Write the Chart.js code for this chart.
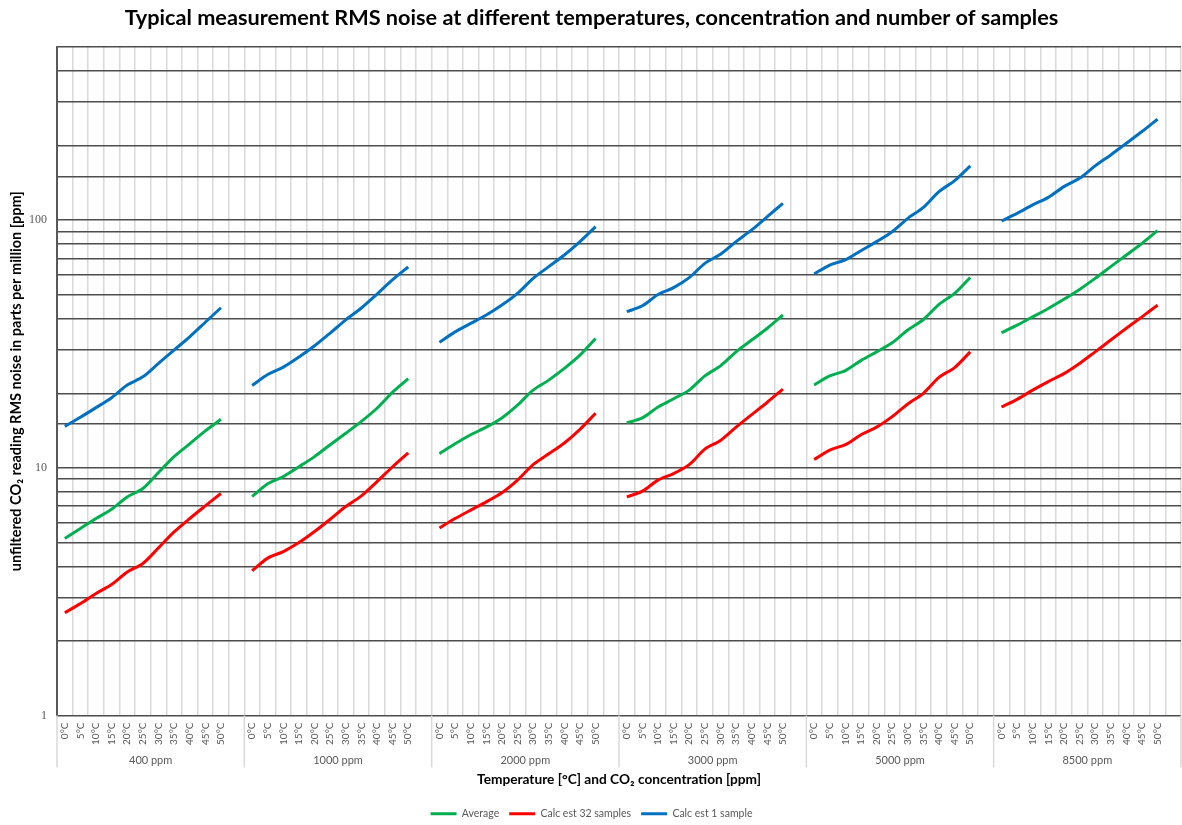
<!DOCTYPE html>
<html>
<head>
<meta charset="utf-8">
<script src="https://cdn.jsdelivr.net/npm/chart.js@4.4.1/dist/chart.umd.min.js"></script>
<style>
  html, body { margin: 0; padding: 0; background: #fff; }
  #wrap { width: 1182px; height: 825px; position: relative; }
</style>
</head>
<body>
<div id="wrap"><canvas id="c" width="1182" height="825"></canvas></div>
<script>
// ---- data ----
const temperatures = ['0°C','5°C','10°C','15°C','20°C','25°C','30°C','35°C','40°C','45°C','50°C'];
const concentrations = ['400 ppm','1000 ppm','2000 ppm','3000 ppm','5000 ppm','8500 ppm'];

// Average (one row per concentration, 0..50 °C)
const averageNoise = [
  [5.18, 5.69, 6.24, 6.81, 7.63, 8.25, 9.57, 11.1, 12.5, 14.1, 15.7],
  [7.66, 8.62, 9.22, 10.1, 11.1, 12.4, 13.8, 15.4, 17.4, 20.2, 22.9],
  [11.4, 12.5, 13.6, 14.6, 15.9, 17.9, 20.6, 22.6, 25.2, 28.5, 33.3],
  [15.2, 15.9, 17.6, 19.0, 20.6, 23.5, 25.8, 29.4, 32.8, 36.6, 41.4],
  [21.6, 23.5, 24.7, 27.1, 29.4, 32.0, 36.0, 39.7, 45.7, 50.6, 58.7],
  [35.1, 37.7, 40.7, 44.0, 47.9, 52.5, 58.2, 64.9, 72.3, 80.6, 90.7]
];
// Calc est 32 samples
const calc32Noise = [
  [2.60, 2.83, 3.11, 3.38, 3.80, 4.11, 4.75, 5.51, 6.24, 7.02, 7.88],
  [3.84, 4.32, 4.59, 4.99, 5.53, 6.20, 6.98, 7.71, 8.80, 10.1, 11.5],
  [5.72, 6.24, 6.75, 7.29, 7.93, 8.92, 10.3, 11.4, 12.6, 14.3, 16.6],
  [7.63, 8.05, 8.92, 9.48, 10.3, 11.9, 12.9, 14.6, 16.4, 18.4, 20.8],
  [10.8, 11.8, 12.4, 13.6, 14.6, 16.1, 18.1, 20.0, 23.2, 25.4, 29.4],
  [17.6, 18.9, 20.6, 22.3, 24.0, 26.4, 29.4, 32.8, 36.6, 40.7, 45.4]
];
// Calc est 1 sample
const calc1Noise = [
  [14.7, 16.0, 17.5, 19.2, 21.6, 23.3, 26.4, 29.9, 33.8, 38.7, 44.3],
  [21.5, 23.8, 25.5, 28.0, 31.1, 35.0, 39.6, 44.2, 50.3, 57.5, 64.7],
  [32.1, 35.4, 38.3, 41.4, 45.4, 50.6, 58.2, 64.9, 72.3, 81.9, 94.1],
  [42.7, 45.1, 50.1, 53.4, 58.6, 66.9, 72.8, 81.9, 91.3, 103.3, 116.9],
  [60.6, 65.9, 69.1, 75.3, 81.9, 89.8, 101.7, 112.6, 130.4, 144.4, 165.6],
  [99.3, 106.5, 115.2, 123.6, 136.6, 147.5, 165.6, 183.4, 204.3, 227.9, 255.5]
];
const yTickLabels = [1, 10, 100];

// ---- build category table (each group gets 11 temperatures + one empty slot) ----
const labels = [];
concentrations.forEach(() => { temperatures.forEach(t => labels.push(t)); labels.push(''); });
function flatten(rows) {
  const out = [];
  rows.forEach(r => { r.forEach(v => out.push(v)); out.push(null); });
  return out;
}

const FONT = 'Lato, "Liberation Sans", sans-serif';
const SLOTS = temperatures.length + 1;

const groupLabelPlugin = {
  id: 'groupLabels',
  afterDraw(chart) {
    const x = chart.scales.x;
    const ctx = chart.ctx;
    const area = chart.chartArea;
    const half = (x.getPixelForValue(1) - x.getPixelForValue(0)) / 2;
    ctx.save();
    ctx.strokeStyle = '#d9d9d9';
    ctx.lineWidth = 1.5;
    ctx.fillStyle = '#595959';
    ctx.font = '11px ' + FONT;
    ctx.textAlign = 'center';
    ctx.textBaseline = 'middle';
    concentrations.forEach((name, g) => {
      const left = x.getPixelForValue(g * SLOTS) - half;
      const right = x.getPixelForValue(g * SLOTS + SLOTS - 1) + half;
      ctx.beginPath();
      ctx.moveTo(left, area.bottom);
      ctx.lineTo(left, area.bottom + 52);
      ctx.stroke();
      if (g === concentrations.length - 1) {
        ctx.beginPath();
        ctx.moveTo(right, area.bottom);
        ctx.lineTo(right, area.bottom + 52);
        ctx.stroke();
      }
      ctx.fillText(name, (left + right) / 2, area.bottom + 45);
    });
    ctx.restore();
  }
};

new Chart(document.getElementById('c'), {
  type: 'line',
  data: {
    labels: labels,
    datasets: [
      { label: 'Average', data: flatten(averageNoise), borderColor: '#00b050', backgroundColor: '#00b050' },
      { label: 'Calc est 32 samples', data: flatten(calc32Noise), borderColor: '#ff0000', backgroundColor: '#ff0000' },
      { label: 'Calc est 1 sample', data: flatten(calc1Noise), borderColor: '#0070c0', backgroundColor: '#0070c0' }
    ].map(d => Object.assign(d, { borderWidth: 3, pointRadius: 0, pointStyle: 'line', tension: 0.3, spanGaps: false }))
  },
  options: {
    responsive: false,
    animation: false,
    layout: { padding: { left: 2, right: 1, top: 4, bottom: -4 } },
    plugins: {
      title: {
        display: true,
        text: 'Typical measurement RMS noise at different temperatures, concentration and number of samples',
        color: '#000',
        font: { family: FONT, size: 21.7, weight: 'bold' },
        padding: { top: 1, bottom: 16 }
      },
      legend: {
        position: 'bottom',
        labels: {
          usePointStyle: true,
          pointStyleWidth: 26,
          color: '#595959',
          font: { family: FONT, size: 10.5 },
          padding: 10
        }
      },
      tooltip: { enabled: false }
    },
    scales: {
      x: {
        type: 'category',
        offset: true,
        afterFit: (s) => { s.paddingLeft = 0; s.paddingRight = 0; s.height = 83; },
        grid: { display: true, offset: true, color: '#d9d9d9', lineWidth: 1.5, drawTicks: false },
        border: { display: false },
        ticks: {
          autoSkip: false, maxRotation: 90, minRotation: 90,
          color: '#595959', font: { family: FONT, size: 10 }, padding: 7
        },
        title: {
          display: true,
          text: 'Temperature [°C] and CO₂ concentration [ppm]',
          color: '#000',
          font: { family: FONT, size: 13.7, weight: 'bold' },
          padding: { top: 19, bottom: 11 }
        }
      },
      y: {
        type: 'logarithmic',
        min: 1,
        max: 500,
        afterFit: (s) => { s.width = 55; },
        grid: { color: '#4d4d4d', lineWidth: 1.5, drawTicks: false },
        border: { display: true, color: '#595959', width: 2 },
        ticks: {
          autoSkip: false,
          color: '#595959',
          font: { family: '"Liberation Serif", serif', size: 12 },
          padding: 10,
          callback: (v) => yTickLabels.includes(v) ? String(v) : ''
        },
        title: {
          display: true,
          text: 'unfiltered CO₂ reading RMS noise in parts per million [ppm]',
          color: '#000',
          font: { family: FONT, size: 14.5, weight: 'bold' },
          padding: { top: 6, bottom: 0 }
        }
      }
    }
  },
  plugins: [groupLabelPlugin]
});
</script>
</body>
</html>
